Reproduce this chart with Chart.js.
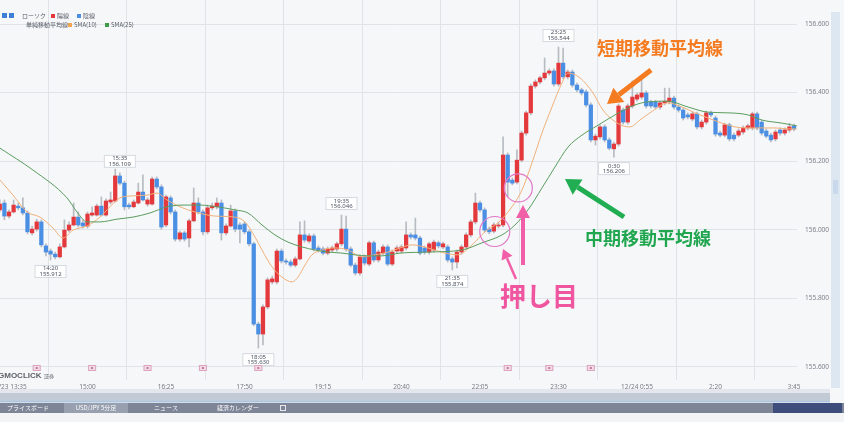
<!DOCTYPE html>
<html><head><meta charset="utf-8">
<script src="https://cdn.jsdelivr.net/npm/chart.js@4.4.1/dist/chart.umd.min.js"></script>
<style>
html,body{margin:0;padding:0;background:#f6f7f9;overflow:hidden;}
#wrap{position:relative;width:844px;height:422px;}
canvas{display:block;}
</style></head><body>
<div id="wrap"><canvas id="c" width="844" height="422"></canvas></div>
<script>
// ---- tick labels (every 17 candles of 5 min, starting at candle index 2) ----
const tickLabels = ['12/23 13:35','15:00','16:25','17:50','19:15','20:40','22:05','23:30','12/24 0:55','2:20','3:45'];
const firstTickIndex = 2, tickStep = 17;
const priceTicks = [155.6,155.8,156.0,156.2,156.4,156.6];

// ---- USD/JPY 5-minute candles ----
const opens = [
156.058,156.078,156.040,156.052,156.069,156.064,156.049,155.991,156.002,156.023,
155.953,155.938,155.929,155.921,155.950,155.999,156.014,156.037,156.020,156.011,
156.043,156.043,156.069,156.043,156.081,156.084,156.157,156.136,156.072,156.067,
156.078,156.110,156.075,156.075,156.148,156.125,156.014,156.093,156.052,155.973,
155.991,155.976,156.026,156.078,156.052,155.994,156.064,156.067,156.078,155.991,
156.011,156.055,156.014,156.017,155.994,155.959,155.725,155.696,155.775,155.848,
155.848,155.938,155.909,155.906,155.897,155.915,155.985,155.967,155.982,155.947,
155.944,155.932,155.941,155.944,155.959,156.002,155.944,155.897,155.874,155.921,
155.900,155.962,155.912,155.932,155.950,155.900,155.938,155.938,155.947,155.985,
155.985,155.976,155.947,155.935,155.941,155.962,155.950,155.950,155.915,155.906,
155.935,155.950,155.985,156.023,156.078,156.058,156.002,155.996,156.011,156.014,
156.218,156.145,156.139,156.203,156.282,156.341,156.419,156.431,156.443,156.457,
156.463,156.425,156.486,156.446,156.460,156.422,156.408,156.402,156.364,156.262,
156.271,156.300,156.262,156.236,156.250,156.349,156.314,156.361,156.381,156.387,
156.399,156.373,156.373,156.358,156.370,156.373,156.384,156.358,156.349,156.335,
156.323,156.338,156.300,156.314,156.341,156.326,156.282,156.276,156.306,156.276,
156.276,156.285,156.297,156.297,156.338,156.314,156.288,156.276,156.265,156.291,
156.282,156.291,156.303];
const highs = [
156.087,156.087,156.058,156.087,156.078,156.093,156.055,156.011,156.031,156.029,
155.959,155.944,155.935,155.959,156.029,156.023,156.078,156.052,156.029,156.052,
156.067,156.075,156.096,156.090,156.110,156.177,156.166,156.142,156.078,156.087,
156.136,156.160,156.093,156.154,156.154,156.131,156.101,156.099,156.058,155.996,
155.996,156.031,156.122,156.093,156.058,156.072,156.078,156.093,156.087,156.017,
156.072,156.061,156.020,156.023,155.999,155.964,155.731,155.781,155.860,155.865,
155.944,155.944,155.915,155.912,155.921,156.023,156.026,155.988,155.988,155.953,
155.950,155.950,155.953,155.964,156.043,156.040,155.950,155.903,155.927,155.927,
155.967,155.967,155.941,155.956,155.956,155.941,155.953,155.956,156.023,155.991,
156.034,155.982,155.953,155.964,155.970,155.967,155.964,155.956,155.921,155.941,
155.956,155.991,156.029,156.107,156.084,156.064,156.008,156.020,156.023,156.271,
156.224,156.151,156.233,156.288,156.346,156.425,156.437,156.448,156.501,156.469,
156.469,156.533,156.530,156.466,156.466,156.428,156.413,156.408,156.370,156.279,
156.306,156.306,156.268,156.256,156.367,156.355,156.367,156.434,156.399,156.437,
156.405,156.378,156.378,156.375,156.413,156.413,156.390,156.364,156.355,156.341,
156.343,156.343,156.320,156.346,156.346,156.332,156.288,156.311,156.311,156.282,
156.294,156.303,156.308,156.343,156.343,156.320,156.294,156.282,156.291,156.297,
156.297,156.311,156.308];
const lows = [
156.052,156.029,156.034,156.049,156.058,156.043,155.988,155.985,155.996,155.950,
155.924,155.912,155.915,155.918,155.947,155.994,156.011,156.008,156.005,156.005,
156.040,156.040,156.040,156.040,156.075,156.081,156.131,156.058,156.061,156.064,
156.075,156.084,156.069,156.072,156.119,156.002,156.008,156.046,155.967,155.967,
155.967,155.950,156.023,156.046,155.985,155.988,156.058,156.061,155.970,155.985,
156.008,155.994,155.962,155.988,155.953,155.720,155.655,155.664,155.769,155.842,
155.842,155.903,155.900,155.892,155.892,155.912,155.964,155.962,155.938,155.935,
155.927,155.927,155.935,155.938,155.953,155.938,155.892,155.868,155.868,155.897,
155.895,155.906,155.906,155.927,155.895,155.895,155.932,155.932,155.941,155.973,
155.970,155.927,155.929,155.929,155.935,155.947,155.944,155.906,155.883,155.889,
155.929,155.944,155.979,156.017,156.052,155.994,155.988,155.991,156.005,156.008,
156.096,156.131,156.134,156.198,156.276,156.335,156.413,156.425,156.437,156.451,
156.419,156.419,156.440,156.440,156.416,156.402,156.393,156.358,156.256,156.247,
156.265,156.256,156.233,156.212,156.244,156.308,156.308,156.355,156.375,156.381,
156.355,156.355,156.352,156.352,156.364,156.367,156.352,156.343,156.320,156.323,
156.317,156.294,156.294,156.308,156.329,156.273,156.271,156.271,156.259,156.259,
156.271,156.279,156.291,156.291,156.291,156.276,156.268,156.256,156.259,156.276,
156.276,156.285,156.288];
const closes = [
156.075,156.040,156.052,156.072,156.064,156.049,155.994,156.002,156.023,155.956,
155.935,155.929,155.921,155.950,155.999,156.014,156.037,156.014,156.011,156.046,
156.049,156.069,156.043,156.084,156.087,156.157,156.136,156.067,156.067,156.081,
156.110,156.087,156.087,156.148,156.125,156.008,156.096,156.052,155.973,155.991,
155.973,156.026,156.078,156.052,155.994,156.064,156.069,156.078,155.991,156.011,
156.055,156.002,156.002,155.994,155.959,155.725,155.696,155.775,155.854,155.857,
155.938,155.909,155.906,155.897,155.915,155.985,155.970,155.982,155.944,155.941,
155.932,155.944,155.947,155.959,156.002,155.944,155.897,155.874,155.921,155.903,
155.962,155.912,155.935,155.950,155.900,155.935,155.947,155.950,155.985,155.979,
155.976,155.932,155.935,155.959,155.964,155.953,155.959,155.912,155.906,155.935,
155.950,155.985,156.023,156.078,156.058,155.999,155.994,156.014,156.014,156.218,
156.139,156.136,156.203,156.282,156.341,156.419,156.431,156.443,156.457,156.463,
156.425,156.486,156.446,156.460,156.422,156.408,156.399,156.364,156.262,156.273,
156.300,156.262,156.238,156.250,156.361,156.314,156.361,156.387,156.393,156.399,
156.361,156.361,156.358,156.370,156.375,156.384,156.358,156.349,156.326,156.329,
156.338,156.300,156.314,156.341,156.335,156.279,156.276,156.306,156.265,156.265,
156.288,156.297,156.303,156.338,156.297,156.282,156.273,156.262,156.285,156.282,
156.291,156.300,156.294];

// ---- moving averages (candle position, price) ----
const sma10Idx = [0.05,2.87,5.90,8.71,11.53,13.69,15.86,18.89,21.71,23.87,26.04,28.85,31.88,34.05,36.21,39.03,42.28,46.61,50.94,53.10,55.27,56.79,58.95,61.12,63.28,64.58,66.10,67.61,69.78,72.60,75.41,78.44,81.26,84.07,86.67,89.27,92.73,96.41,99.23,102.26,105.08,107.89,110.92,113.09,115.25,117.42,119.58,121.75,123.05,125.65,128.46,130.63,132.79,134.96,136.47,138.64,140.80,144.70,147.74,150.55,153.36,156.40,159.21,162.03,165.06,167.87,171.12,172.6];
const sma10 = [156.145,156.101,156.052,156.037,156.005,155.976,155.999,156.011,156.037,156.067,156.093,156.099,156.101,156.107,156.087,156.067,156.052,156.040,156.037,156.023,155.979,155.941,155.892,155.862,155.848,155.862,155.897,155.927,155.941,155.947,155.941,155.921,155.927,155.935,155.947,155.956,155.947,155.932,155.927,155.956,155.994,156.020,156.067,156.116,156.195,156.282,156.358,156.428,156.457,156.443,156.399,156.349,156.320,156.303,156.300,156.320,156.341,156.370,156.358,156.341,156.326,156.311,156.300,156.297,156.297,156.297,156.294,156.294];
const sma25Idx = [0.05,7.20,14.56,16.72,18.89,21.71,25.39,28.85,32.53,36.21,39.68,43.36,47.04,50.94,53.75,56.79,59.60,62.42,65.45,68.26,71.08,74.11,76.92,79.74,82.77,86.67,92.73,100.10,104.43,108.76,111.57,114.39,117.42,120.23,123.05,126.08,129.33,133.23,137.56,140.38,144.70,149.03,153.36,157.69,162.03,165.06,169.39,172.64];
const sma25 = [156.238,156.174,156.093,156.052,156.023,156.023,156.031,156.037,156.049,156.067,156.072,156.072,156.067,156.058,156.049,156.014,155.985,155.964,155.950,155.941,155.935,155.932,155.927,155.924,155.924,155.932,155.935,155.941,155.962,155.985,156.014,156.058,156.122,156.183,156.241,156.276,156.303,156.335,156.364,156.373,156.375,156.358,156.343,156.341,156.335,156.320,156.311,156.303];

// ---- high / low markers shown by the platform ----
const markerIdx   = [11, 26, 56, 74, 98, 121, 133];
const markerTime  = ['14:20','15:35','18:05','19:35','21:35','23:25','0:30'];
const markerPrice = ['155.912','156.109','155.630','156.046','155.874','156.544','156.206'];
const markerSide  = ['low','high','low','high','low','high','low'];
// economic-event flags on the time axis (candle positions)
const eventIdx = [8, 20, 32, 44, 56, 110, 119, 128];

const UP = '#e4393c', DOWN = '#4a8fe3';
const idxs = opens.map((_, i) => i);

const bg = {
  id: 'bg',
  beforeDraw(chart) {
    const c = chart.ctx;
    c.save();
    c.fillStyle = '#f6f7f9';
    c.fillRect(0, 0, chart.width, chart.height);
    c.restore();
  }
};

function arrow(c, x1, y1, x2, y2, color, w, hl, hw) {
  const a = Math.atan2(y2 - y1, x2 - x1);
  const bx = x2 - hl * Math.cos(a), by = y2 - hl * Math.sin(a);
  c.strokeStyle = color; c.lineWidth = w; c.lineCap = 'butt';
  c.beginPath(); c.moveTo(x1, y1); c.lineTo(bx, by); c.stroke();
  c.fillStyle = color; c.beginPath(); c.moveTo(x2, y2);
  c.lineTo(bx + hw * Math.sin(a), by - hw * Math.cos(a));
  c.lineTo(bx - hw * Math.sin(a), by + hw * Math.cos(a));
  c.closePath(); c.fill();
}

const annot = {
  id: 'annot',
  afterDraw(chart) {
    const c = chart.ctx, xs = chart.scales.x, ys = chart.scales.y;
    c.save();
    // legend (top-left)
    c.fillStyle = '#3d7fd6'; c.fillRect(2, 13, 5, 5); c.fillRect(9, 13, 5, 5);
    c.font = '6px "Noto Sans CJK JP", sans-serif'; c.textBaseline = 'middle';
    c.fillStyle = '#555b66';
    c.fillText('ローソク', 22, 16);
    c.fillStyle = UP; c.fillRect(51, 14, 4, 4);
    c.fillStyle = '#555b66'; c.fillText('陽線', 57, 16);
    c.fillStyle = DOWN; c.fillRect(77, 14, 4, 4);
    c.fillStyle = '#555b66'; c.fillText('陰線', 83, 16);
    c.fillText('単純移動平均線', 26, 25);
    c.fillStyle = '#f0a54f'; c.fillRect(68, 23, 4, 4);
    c.fillStyle = '#555b66'; c.fillText('SMA(10)', 74, 25);
    c.fillStyle = '#3f9a4a'; c.fillRect(105, 23, 4, 4);
    c.fillStyle = '#555b66'; c.fillText('SMA(25)', 111, 25);

    // high / low marker boxes
    c.font = '6px "Noto Sans", sans-serif'; c.textAlign = 'center';
    for (let k = 0; k < markerIdx.length; k++) {
      const i = markerIdx[k];
      const cx = xs.getPixelForValue(i);
      let top;
      if (markerSide[k] === 'high') top = ys.getPixelForValue(highs[i]) - 5 - 13;
      else top = ys.getPixelForValue(lows[i]) + 5;
      c.fillStyle = '#ffffff'; c.strokeStyle = '#d5d9df'; c.lineWidth = 1;
      c.fillRect(cx - 16, top, 32, 13); c.strokeRect(cx - 16 + 0.5, top + 0.5, 31, 12);
      c.fillStyle = '#4b5361';
      c.fillText(markerTime[k], cx, top + 3.8);
      c.fillText(markerPrice[k], cx, top + 9.4);
    }

    // event flags
    for (const i of eventIdx) {
      const cx = xs.getPixelForValue(i);
      c.fillStyle = '#f4dbe6'; c.strokeStyle = '#dba5bf';
      c.fillRect(cx - 4, 365, 8, 6); c.strokeRect(cx - 3.5, 365.5, 7, 5);
      c.fillStyle = '#c07a9a'; c.fillRect(cx - 1, 367, 2, 2);
    }

    // logo
    c.textAlign = 'left';
    c.font = 'bold 8px "Liberation Sans", sans-serif'; c.fillStyle = '#5d626b';
    c.fillText('GMOCLICK', -2, 376);
    c.font = '5px "Noto Sans CJK JP", sans-serif';
    c.fillText('証券', 44, 376);

    // pink circles around the pull-backs
    c.strokeStyle = '#e27ac8'; c.lineWidth = 1.2;
    c.beginPath(); c.arc(xs.getPixelForValue(107.2), ys.getPixelForValue(155.995), 15, 0, Math.PI * 2); c.stroke();
    c.beginPath(); c.arc(xs.getPixelForValue(112.3), ys.getPixelForValue(156.122), 14, 0, Math.PI * 2); c.stroke();

    // arrows
    arrow(c, 651, 70, 607, 104, '#f47b20', 5, 15, 9);
    arrow(c, 624, 217, 565, 179, '#21ad52', 5, 15, 9);
    arrow(c, 523, 265, 523, 205, '#f25fa9', 4, 13, 7);
    arrow(c, 516, 279, 503, 249, '#f25fa9', 2.5, 10, 6);

    // annotation texts
    c.textBaseline = 'middle'; c.textAlign = 'left';
    c.font = 'bold 18px "Noto Sans CJK JP", sans-serif';
    c.fillStyle = '#f47b20'; c.fillText('短期移動平均線', 597, 48);
    c.fillStyle = '#1fa64e'; c.fillText('中期移動平均線', 585, 238);
    c.font = 'bold 26px "Noto Sans CJK JP", sans-serif';
    c.fillStyle = '#f0559f'; c.fillText('押し目', 500, 296);

    // navigator strip
    c.fillStyle = '#e3e7ed'; c.fillRect(0, 389, 830, 13);
    c.fillStyle = '#c2cad6'; c.fillRect(0, 393, 830, 9);
    c.fillStyle = '#a9c6e3'; c.fillRect(0, 401, 830, 1.5);
    // tab bar
    c.fillStyle = '#7d8597'; c.fillRect(0, 403, 844, 10);
    c.fillStyle = '#98a0b0'; c.fillRect(64, 403, 64, 10);
    c.fillStyle = '#3e4d7c'; c.fillRect(773, 403, 69, 10);
    c.fillStyle = '#f3f4f6'; c.fillRect(0, 413, 844, 9);
    c.font = '6px "Noto Sans CJK JP", sans-serif'; c.fillStyle = '#ffffff'; c.textAlign = 'center';
    c.fillText('プライスボード', 28, 408);
    c.fillText('USD/JPY 5分足', 96, 408);
    c.fillText('ニュース', 166, 408);
    c.fillText('経済カレンダー', 238, 408);
    c.strokeStyle = '#e6e8ee'; c.lineWidth = 1; c.strokeRect(280.5, 405.5, 5, 5);
    // scrollbar at right
    c.fillStyle = '#dce7f2'; c.fillRect(831, 12, 9, 376);
    c.fillStyle = '#c9d8ea'; c.fillRect(833, 180, 5, 14);
    c.restore();
  }
};

function noPad(s) { s.paddingTop = 0; s.paddingBottom = 0; s.paddingLeft = 0; s.paddingRight = 0; }

new Chart(document.getElementById('c'), {
  type: 'bar',
  data: {
    datasets: [
      { type: 'line', label: 'SMA(25)', data: sma25Idx.map((x, i) => ({ x, y: sma25[i] })),
        borderColor: '#5a9d5e', borderWidth: 1, pointRadius: 0, cubicInterpolationMode: 'monotone', order: 0 },
      { type: 'line', label: 'SMA(10)', data: sma10Idx.map((x, i) => ({ x, y: sma10[i] })),
        borderColor: '#f1b17a', borderWidth: 1, pointRadius: 0, cubicInterpolationMode: 'monotone', order: 1 },
      { label: 'body', data: idxs.map(i => ({ x: i, y: [opens[i], closes[i]] })),
        backgroundColor: idxs.map(i => closes[i] >= opens[i] ? UP : DOWN),
        barThickness: 3.6, grouped: false, minBarLength: 1, order: 2 },
      { label: 'wick', data: idxs.map(i => ({ x: i, y: [lows[i], highs[i]] })),
        backgroundColor: '#b7bbc2', barThickness: 1, grouped: false, order: 3 }
    ]
  },
  options: {
    responsive: false, animation: false, devicePixelRatio: 1,
    layout: { autoPadding: false, padding: { top: 0, bottom: 30, left: 0, right: 0 } },
    plugins: { legend: { display: false }, tooltip: { enabled: false } },
    scales: {
      x: {
        type: 'linear', min: 0.05, max: 172.65, offset: false,
        grid: { color: '#e0e3e8', drawTicks: false },
        border: { display: false },
        afterBuildTicks: s => { s.ticks = tickLabels.map((_, k) => ({ value: firstTickIndex + k * tickStep })); },
        afterFit: s => { s.height = 12; noPad(s); },
        ticks: { autoSkip: false, maxRotation: 0, padding: 3, color: '#777c85',
          font: { size: 6.5, family: '"Noto Sans", sans-serif' },
          callback: (v, k) => tickLabels[k] }
      },
      y: {
        position: 'right', min: 155.562, max: 156.670,
        grid: { color: '#e0e3e8', drawTicks: false },
        border: { display: false },
        afterBuildTicks: s => { s.ticks = priceTicks.map(v => ({ value: v })); },
        afterFit: s => { s.width = 47; noPad(s); },
        ticks: { padding: 8, color: '#7d828b', font: { size: 6.5, family: '"Noto Sans", sans-serif' },
          callback: v => Number(v).toFixed(3) }
      }
    }
  },
  plugins: [bg, annot]
});
</script>
</body></html>
